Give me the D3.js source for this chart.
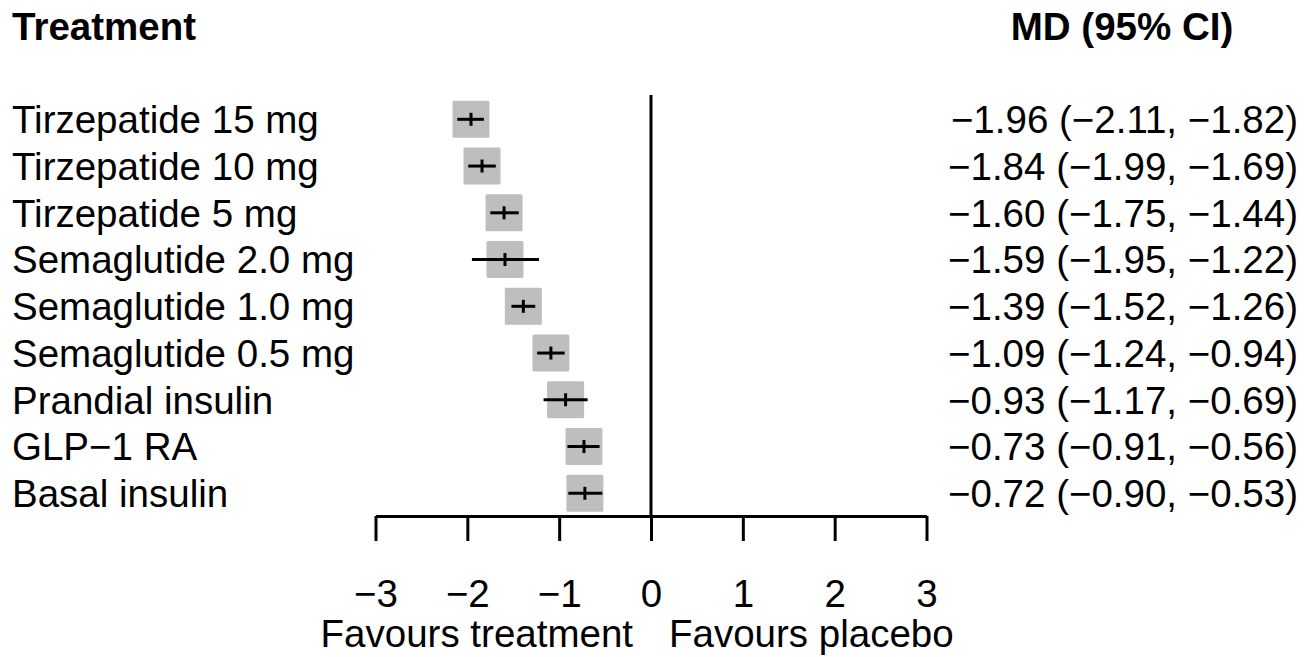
<!DOCTYPE html>
<html>
<head>
<meta charset="utf-8">
<script src="https://cdn.jsdelivr.net/npm/d3@7"></script>
<style>
  body { margin: 0; background: #fff; }
  text { font-family: "Liberation Sans", Arial, sans-serif; fill: #000; }
</style>
</head>
<body>
<div id="chart"></div>
<script>
const width = 1311, height = 657;

// data
const treatments = ['Tirzepatide 15 mg', 'Tirzepatide 10 mg', 'Tirzepatide 5 mg',
  'Semaglutide 2.0 mg', 'Semaglutide 1.0 mg', 'Semaglutide 0.5 mg',
  'Prandial insulin', 'GLP\u22121 RA', 'Basal insulin'];
const md    = [-1.96, -1.84, -1.60, -1.59, -1.39, -1.09, -0.93, -0.73, -0.72];
const lower = [-2.11, -1.99, -1.75, -1.95, -1.52, -1.24, -1.17, -0.91, -0.90];
const upper = [-1.82, -1.69, -1.44, -1.22, -1.26, -0.94, -0.69, -0.56, -0.53];
const xTicks = [-3, -2, -1, 0, 1, 2, 3];

const rows = treatments.map((t, i) => ({ name: t, md: md[i], lo: lower[i], hi: upper[i] }));

const fontSize = 38.5;
const boxSize = 37;
const fmt = d3.format('.2f');

const svg = d3.select('#chart').append('svg')
  .attr('width', width)
  .attr('height', height);

const x = d3.scaleLinear().domain([-3, 3]).range([375.5, 926.5]);
const y = d3.scalePoint().domain(treatments).range([119.3, 493.3]);
const axisY = 516;

// headers
svg.append('text')
  .attr('x', 12).attr('y', 39.5)
  .style('font-size', fontSize + 'px').style('font-weight', 'bold')
  .text('Treatment');
svg.append('text')
  .attr('x', 1122).attr('y', 39.5)
  .attr('text-anchor', 'middle')
  .style('font-size', fontSize + 'px').style('font-weight', 'bold')
  .text('MD (95% CI)');

// reference line at zero
svg.append('line')
  .attr('x1', x(0)).attr('x2', x(0))
  .attr('y1', 95).attr('y2', axisY)
  .attr('stroke', '#000').attr('stroke-width', 3);

// x axis
const axis = d3.axisBottom(x)
  .tickValues(xTicks)
  .tickSize(25)
  .tickPadding(39)
  .tickSizeOuter(0)
  .tickFormat(d3.format('d'));
const gAxis = svg.append('g')
  .attr('transform', `translate(0,${axisY})`)
  .call(axis);
gAxis.select('.domain').attr('stroke', '#000').attr('stroke-width', 3);
gAxis.selectAll('.tick line').attr('stroke', '#000').attr('stroke-width', 3);
gAxis.selectAll('.tick text')
  .style('font-size', fontSize + 'px')
  .style('font-family', '"Liberation Sans", Arial, sans-serif')
  .attr('fill', '#000');

svg.append('text')
  .attr('x', x(0) - 18).attr('y', 647)
  .attr('text-anchor', 'end')
  .style('font-size', fontSize + 'px')
  .text('Favours treatment');
svg.append('text')
  .attr('x', x(0) + 18).attr('y', 647)
  .attr('text-anchor', 'start')
  .style('font-size', fontSize + 'px')
  .text('Favours placebo');

// rows
const g = svg.selectAll('.row')
  .data(rows)
  .enter().append('g')
  .attr('class', 'row');

g.append('text')
  .attr('x', 12)
  .attr('y', d => y(d.name) + 13.8)
  .style('font-size', fontSize + 'px')
  .text(d => d.name);

g.append('text')
  .attr('x', 1298)
  .attr('y', d => y(d.name) + 13.8)
  .attr('text-anchor', 'end')
  .style('font-size', fontSize + 'px')
  .text(d => `${fmt(d.md)} (${fmt(d.lo)}, ${fmt(d.hi)})`);

g.append('rect')
  .attr('x', d => x(d.md) - boxSize / 2)
  .attr('y', d => y(d.name) - boxSize / 2)
  .attr('width', boxSize)
  .attr('height', boxSize)
  .attr('rx', 1.5)
  .attr('fill', '#bebebe');

g.append('line')
  .attr('x1', d => x(d.lo))
  .attr('x2', d => x(d.hi))
  .attr('y1', d => y(d.name))
  .attr('y2', d => y(d.name))
  .attr('stroke', '#000')
  .attr('stroke-width', 3);

g.append('line')
  .attr('x1', d => x(d.md))
  .attr('x2', d => x(d.md))
  .attr('y1', d => y(d.name) - 6.5)
  .attr('y2', d => y(d.name) + 6.5)
  .attr('stroke', '#000')
  .attr('stroke-width', 3);
</script>
</body>
</html>
